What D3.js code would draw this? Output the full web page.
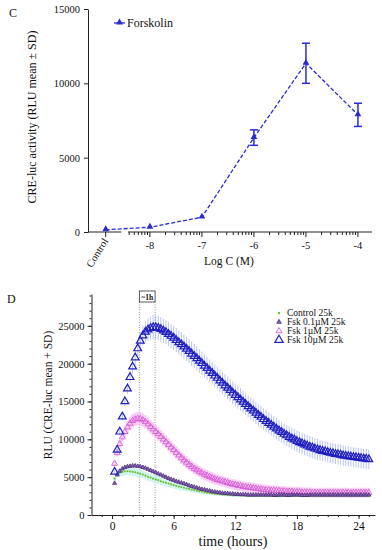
<!DOCTYPE html>
<html>
<head>
<meta charset="utf-8">
<script src="https://cdn.jsdelivr.net/npm/d3@7"></script>
<style>
  body { margin: 0; background: #fff; }
  svg { display: block; }
  text { font-family: "Liberation Serif", "Times New Roman", serif; fill: #111; }
</style>
</head>
<body>
<div id="chart"></div>
<script>
// ---------- panel C : dose response ----------
const doseLabels = ["Control", "-8", "-7", "-6", "-5", "-4"];
const doseLog = [-8.85, -8, -7, -6, -5, -4]; // Control sits left of the axis break
const doseMean = [150, 320, 1000, 6350, 11350, 7880];
const doseSD = [0, 0, 0, 520, 1350, 780];
const yTicksC = [0, 5000, 10000, 15000];

// ---------- panel D : time course (sampled every 15 min) ----------
const sampleStep = 0.25;
const hourTicks = [0, 6, 12, 18, 24];
const yTicksD = [0, 5000, 10000, 15000, 20000, 25000];

const ctrl25k = [
  4800, 5400, 5600, 5700, 5750, 5800, 5750, 5700, 5650, 5550,
  5450, 5350, 5200, 5050, 4950, 4800, 4700, 4600, 4450, 4350,
  4250, 4150, 4050, 3950, 3850, 3750, 3700, 3600, 3500, 3450,
  3350, 3300, 3200, 3150, 3100, 3000, 2950, 2900, 2850, 2800,
  2750, 2750, 2700, 2700, 2650, 2650, 2600, 2600, 2600, 2600,
  2600, 2550, 2550, 2550, 2550, 2550, 2550, 2550, 2550, 2550,
  2550, 2550, 2550, 2500, 2500, 2500, 2550, 2550, 2550, 2550,
  2550, 2550, 2550, 2550, 2550, 2550, 2550, 2550, 2550, 2550,
  2550, 2550, 2550, 2550, 2550, 2550, 2550, 2550, 2550, 2550,
  2550, 2550, 2550, 2550, 2550, 2550, 2550, 2550, 2550, 2550
];
const fsk01 = [
  4200, 5300, 5800, 6100, 6300, 6400, 6450, 6500, 6500, 6450,
  6400, 6300, 6200, 6050, 5900, 5750, 5600, 5450, 5300, 5150,
  5000, 4850, 4700, 4600, 4450, 4350, 4250, 4150, 4050, 3900,
  3800, 3700, 3600, 3500, 3400, 3350, 3250, 3200, 3100, 3050,
  3000, 2950, 2900, 2850, 2850, 2800, 2800, 2750, 2750, 2700,
  2700, 2700, 2650, 2650, 2650, 2650, 2650, 2650, 2650, 2650,
  2650, 2650, 2600, 2600, 2650, 2650, 2650, 2600, 2600, 2650,
  2650, 2650, 2650, 2600, 2600, 2600, 2650, 2650, 2650, 2650,
  2650, 2650, 2650, 2650, 2650, 2650, 2650, 2650, 2650, 2650,
  2650, 2650, 2650, 2650, 2650, 2650, 2650, 2650, 2650, 2650
];
const fsk1 = [
  6800, 8200, 9400, 10300, 11000, 11600, 12100, 12450, 12650, 12750,
  12700, 12550, 12300, 12000, 11650, 11350, 11000, 10700, 10350, 10000,
  9650, 9300, 8950, 8600, 8250, 7900, 7550, 7250, 6950, 6650,
  6400, 6150, 5950, 5750, 5550, 5350, 5200, 5050, 4900, 4750,
  4650, 4550, 4450, 4350, 4250, 4150, 4050, 4000, 3900, 3850,
  3750, 3700, 3650, 3600, 3550, 3500, 3450, 3400, 3350, 3300,
  3300, 3250, 3250, 3200, 3200, 3150, 3150, 3100, 3100, 3100,
  3050, 3050, 3050, 3000, 3000, 3000, 3000, 2950, 2950, 2950,
  2950, 2950, 2950, 2950, 2950, 2950, 2950, 2950, 2950, 2950,
  2950, 2950, 2900, 2950, 2950, 2950, 2950, 2950, 2950, 2950
];
const fsk10 = [
  5700, 8600, 11000, 13000, 15000, 16700, 18200, 19600, 20800, 22000,
  23000, 23700, 24200, 24500, 24700, 24800, 24800, 24700, 24550, 24350,
  24150, 23900, 23650, 23400, 23100, 22800, 22550, 22250, 21950, 21650,
  21300, 21000, 20700, 20350, 20050, 19700, 19400, 19050, 18750, 18400,
  18100, 17750, 17450, 17100, 16800, 16500, 16150, 15850, 15550, 15250,
  14950, 14650, 14350, 14050, 13800, 13500, 13200, 12950, 12650, 12400,
  12150, 11900, 11650, 11400, 11150, 10950, 10700, 10500, 10300, 10100,
  9950, 9750, 9600, 9450, 9300, 9150, 9000, 8900, 8750, 8650,
  8550, 8450, 8400, 8300, 8200, 8150, 8050, 8000, 7950, 7850,
  7800, 7750, 7700, 7650, 7600, 7550, 7500, 7450, 7400, 7350
];
const sd10 = [
  200, 300, 400, 500, 600, 700, 800, 900, 1000, 1100,
  1200, 1300, 1400, 1500, 1500, 1600, 1600, 1600, 1600, 1600,
  1600, 1600, 1600, 1600, 1600, 1600, 1600, 1600, 1600, 1600,
  1600, 1600, 1600, 1550, 1550, 1550, 1500, 1500, 1500, 1500,
  1500, 1500, 1500, 1500, 1500, 1500, 1500, 1500, 1500, 1500,
  1450, 1450, 1450, 1450, 1450, 1450, 1450, 1450, 1450, 1450,
  1400, 1400, 1400, 1400, 1400, 1400, 1400, 1400, 1400, 1400,
  1400, 1400, 1400, 1400, 1400, 1400, 1400, 1400, 1400, 1400,
  1350, 1350, 1350, 1350, 1350, 1350, 1350, 1350, 1350, 1350,
  1300, 1300, 1300, 1300, 1300, 1300, 1300, 1300, 1300, 1300
];
const sd1 = [
  300, 400, 500, 600, 700, 800, 900, 900, 900, 900,
  900, 900, 900, 900, 900, 900, 900, 900, 850, 850,
  850, 850, 850, 850, 800, 800, 800, 800, 800, 800,
  750, 750, 750, 750, 750, 750, 750, 750, 750, 750,
  700, 700, 700, 700, 700, 700, 700, 700, 700, 700,
  700, 700, 700, 700, 700, 700, 700, 700, 700, 700,
  650, 650, 650, 650, 650, 650, 650, 650, 650, 650,
  650, 650, 650, 650, 650, 650, 650, 650, 650, 650,
  650, 650, 650, 650, 650, 650, 650, 650, 650, 650,
  650, 650, 650, 650, 650, 650, 650, 650, 650, 650
];
const sdCtrl = [
  300, 400, 500, 550, 550, 550, 550, 550, 550, 550,
  500, 500, 500, 500, 500, 500, 500, 500, 500, 500,
  450, 450, 450, 450, 450, 450, 450, 450, 400, 400,
  350, 350, 300, 300, 300, 250, 250, 250, 200, 200,
  200, 200, 200, 200, 200, 200, 200, 200, 200, 200,
  200, 200, 200, 200, 200, 200, 200, 200, 200, 200,
  200, 200, 200, 200, 200, 200, 200, 200, 200, 200,
  200, 200, 200, 200, 200, 200, 200, 200, 200, 200,
  200, 200, 200, 200, 200, 200, 200, 200, 200, 200,
  200, 200, 200, 200, 200, 200, 200, 200, 200, 200
];

const seriesNames = ["Control 25k", "Fsk 0.1\u00b5M 25k", "Fsk 1\u00b5M 25k", "Fsk 10\u00b5M 25k"];

const W = 382, H = 550;
const svg = d3.select("#chart").append("svg").attr("width", W).attr("height", H);

const blueC = "#2b2bd6";

// =============== PANEL C ===============
const gC = svg.append("g");
const xC = d3.scaleLinear().domain([-9.19, -3.73]).range([88, 372]);
const yC = d3.scaleLinear().domain([0, 15000]).range([232, 9]);

gC.append("text").attr("x", 9).attr("y", 17).attr("font-size", 12).text("C");

const yAxisC = d3.axisLeft(yC).tickValues(yTicksC).tickSize(4).tickSizeOuter(0).tickFormat(d3.format("d"));
gC.append("g").attr("transform", "translate(88,0)").call(yAxisC)
  .call(g => g.selectAll("text").attr("font-size", 10.5).attr("font-family", "Liberation Serif").attr("dx", "-1"))
  .call(g => g.selectAll("line,path").attr("stroke", "#222"));

// x axis with a break between Control and the log scale
const axC = gC.append("g").attr("stroke", "#222").attr("fill", "none");
axC.append("line").attr("x1", xC(-9.19)).attr("x2", xC(-8.55)).attr("y1", 232).attr("y2", 232);
axC.append("line").attr("x1", xC(-8.42)).attr("x2", xC(-3.73)).attr("y1", 232).attr("y2", 232);
doseLog.forEach(v => {
  axC.append("line").attr("x1", xC(v)).attr("x2", xC(v)).attr("y1", 232).attr("y2", 237);
});
const minorC = [];
[-9, -8, -7, -6, -5].forEach(dec => {
  d3.range(2, 10).forEach(k => {
    const p = dec + Math.log10(k);
    if (p >= -8.42 && p <= -3.73) minorC.push(p);
  });
});
minorC.forEach(p => {
  axC.append("line").attr("x1", xC(p)).attr("x2", xC(p)).attr("y1", 232).attr("y2", 235);
});
doseLabels.forEach((lab, i) => {
  if (i === 0) {
    gC.append("text").attr("font-size", 10.5).attr("text-anchor", "end")
      .attr("transform", `translate(${xC(doseLog[i]) + 3},${241}) rotate(-58)`).text(lab);
  } else {
    gC.append("text").attr("font-size", 10.5).attr("text-anchor", "middle")
      .attr("x", xC(doseLog[i])).attr("y", 249).text(lab);
  }
});

gC.append("text").attr("font-size", 11.5).attr("text-anchor", "middle")
  .attr("x", 229).attr("y", 265).text("Log C (M)");
gC.append("text").attr("font-size", 12).attr("text-anchor", "middle")
  .attr("transform", `translate(36,${117}) rotate(-90)`).text("CRE-luc activity (RLU mean \u00b1 SD)");

const doseData = doseLog.map((v, i) => ({ x: v, y: doseMean[i], sd: doseSD[i] }));
gC.append("path").datum(doseData)
  .attr("fill", "none").attr("stroke", blueC).attr("stroke-width", 1.3).attr("stroke-dasharray", "4,2")
  .attr("d", d3.line().x(d => xC(d.x)).y(d => yC(d.y)));
const eb = gC.append("g").attr("stroke", blueC).attr("stroke-width", 1.5);
doseData.filter(d => d.sd > 0).forEach(d => {
  const x = xC(d.x);
  eb.append("line").attr("x1", x).attr("x2", x).attr("y1", yC(d.y - d.sd)).attr("y2", yC(d.y + d.sd));
  eb.append("line").attr("x1", x - 4).attr("x2", x + 4).attr("y1", yC(d.y - d.sd)).attr("y2", yC(d.y - d.sd));
  eb.append("line").attr("x1", x - 4).attr("x2", x + 4).attr("y1", yC(d.y + d.sd)).attr("y2", yC(d.y + d.sd));
});
gC.selectAll(".tri").data(doseData).join("path")
  .attr("transform", d => `translate(${xC(d.x)},${yC(d.y) - 0.5})`)
  .attr("d", d3.symbol(d3.symbolTriangle, 20)).attr("fill", blueC);

// legend C
gC.append("line").attr("x1", 114).attr("x2", 125).attr("y1", 23).attr("y2", 23).attr("stroke", blueC).attr("stroke-width", 1.3);
gC.append("path").attr("transform", "translate(119.5,22.5)").attr("d", d3.symbol(d3.symbolTriangle, 20)).attr("fill", blueC);
gC.append("text").attr("x", 127).attr("y", 26.5).attr("font-size", 12).text("Forskolin");

// =============== PANEL D ===============
const gD = svg.append("g");
const xD = d3.scaleLinear().domain([-2, 25.6]).range([91.5, 375]);
const yD = d3.scaleLinear().domain([0, 29200]).range([515, 294]);

gD.append("text").attr("x", 7).attr("y", 303).attr("font-size", 12).text("D");

const yAxisD = d3.axisLeft(yD).tickValues(yTicksD).tickSize(4).tickSizeOuter(0).tickFormat(d3.format("d"));
gD.append("g").attr("transform", "translate(91.5,0)").call(yAxisD)
  .call(g => g.selectAll("text").attr("font-size", 10.5).attr("font-family", "Liberation Serif"))
  .call(g => g.selectAll("line,path").attr("stroke", "#222"));
gD.append("g").attr("transform", "translate(91.5,0)")
  .call(d3.axisLeft(yD).tickValues(d3.range(1000, 29001, 1000)).tickSize(2).tickFormat(""))
  .call(g => g.select(".domain").remove())
  .call(g => g.selectAll("line").attr("stroke", "#222"));

const xAxisD = d3.axisBottom(xD).tickValues(hourTicks).tickSize(4).tickSizeOuter(0);
gD.append("g").attr("transform", "translate(0,515)").call(xAxisD)
  .call(g => g.selectAll("text").attr("font-size", 11.5).attr("font-family", "Liberation Serif"))
  .call(g => g.selectAll("line,path").attr("stroke", "#222"));
gD.append("g").attr("transform", "translate(0,515)")
  .call(d3.axisBottom(xD).tickValues(d3.range(-1, 26, 1)).tickSize(2).tickFormat(""))
  .call(g => g.select(".domain").remove())
  .call(g => g.selectAll("line").attr("stroke", "#222"));

gD.append("text").attr("font-size", 14).attr("text-anchor", "middle")
  .attr("x", 233).attr("y", 546).text("time (hours)");
gD.append("text").attr("font-size", 11.5).attr("text-anchor", "middle")
  .attr("transform", `translate(52,${395}) rotate(-90)`).text("RLU (CRE-luc mean + SD)");

// ~1h window
const winStart = 2.66, winEnd = 4.19;
gD.append("g").selectAll("line").data([winStart, winEnd]).join("line")
  .attr("x1", d => xD(d)).attr("x2", d => xD(d)).attr("y1", 302).attr("y2", 515)
  .attr("stroke", "#888").attr("stroke-width", 0.9).attr("stroke-dasharray", "1,1.5");
gD.append("rect").attr("x", xD(winStart)).attr("y", 291).attr("width", xD(winEnd) - xD(winStart)).attr("height", 11)
  .attr("fill", "#fff").attr("stroke", "#333").attr("stroke-width", 0.8);
gD.append("text").attr("x", (xD(winStart) + xD(winEnd)) / 2).attr("y", 299.5).attr("text-anchor", "middle")
  .attr("font-size", 7.5).attr("font-weight", "bold").text("~1h");

function toPoints(vals, sds) {
  return vals.map((v, i) => ({ t: (i + 1) * sampleStep, y: v, sd: sds ? sds[i] : 0 }));
}
const dCtrl = toPoints(ctrl25k, sdCtrl);
const d01 = toPoints(fsk01, null);
const d1 = toPoints(fsk1, sd1);
const d10 = toPoints(fsk10, sd10);

function errBars(data, color, width, opacity) {
  gD.append("g").selectAll("line").data(data).join("line")
    .attr("x1", d => xD(d.t)).attr("x2", d => xD(d.t))
    .attr("y1", d => yD(d.y - d.sd)).attr("y2", d => yD(d.y + d.sd))
    .attr("stroke", color).attr("stroke-width", width).attr("opacity", opacity);
}
errBars(dCtrl, "#bff3ee", 2.5, 0.8);
errBars(d1, "#f7bdf2", 2.6, 0.75);
errBars(d10, "#8a9ef2", 0.8, 0.75);

// control: small green dots
gD.append("g").selectAll("circle").data(dCtrl).join("circle")
  .attr("cx", d => xD(d.t)).attr("cy", d => yD(d.y)).attr("r", 1.1).attr("fill", "#6fbf2e");

function triangles(data, size, stroke, fill, sw) {
  gD.append("g").selectAll("path").data(data).join("path")
    .attr("transform", d => `translate(${xD(d.t)},${yD(d.y)})`)
    .attr("d", d3.symbol(d3.symbolTriangle, size))
    .attr("fill", fill).attr("stroke", stroke).attr("stroke-width", sw);
}
triangles(d1, 16, "#d65bd4", "none", 0.9);
triangles(d01, 7, "#4a2a78", "#8a6ab8", 0.8);
triangles(d10, 26, "#1f1fc0", "none", 1.2);

// legend D
const legD = gD.append("g");
const legY = [313, 322, 331, 340];
legD.append("circle").attr("cx", 279).attr("cy", legY[0]).attr("r", 1.2).attr("fill", "#6fbf2e");
legD.append("path").attr("transform", `translate(279,${legY[1]})`).attr("d", d3.symbol(d3.symbolTriangle, 9))
  .attr("fill", "#8a6ab8").attr("stroke", "#4a2a78").attr("stroke-width", 0.8);
legD.append("path").attr("transform", `translate(279,${legY[2]})`).attr("d", d3.symbol(d3.symbolTriangle, 16))
  .attr("fill", "none").attr("stroke", "#d65bd4").attr("stroke-width", 0.9);
legD.append("path").attr("transform", `translate(279,${legY[3]})`).attr("d", d3.symbol(d3.symbolTriangle, 30))
  .attr("fill", "none").attr("stroke", "#2222c4").attr("stroke-width", 1.2);
seriesNames.forEach((n, i) => {
  legD.append("text").attr("x", 287).attr("y", legY[i] + 3.3).attr("font-size", 9.5).text(n);
});
</script>
</body>
</html>
